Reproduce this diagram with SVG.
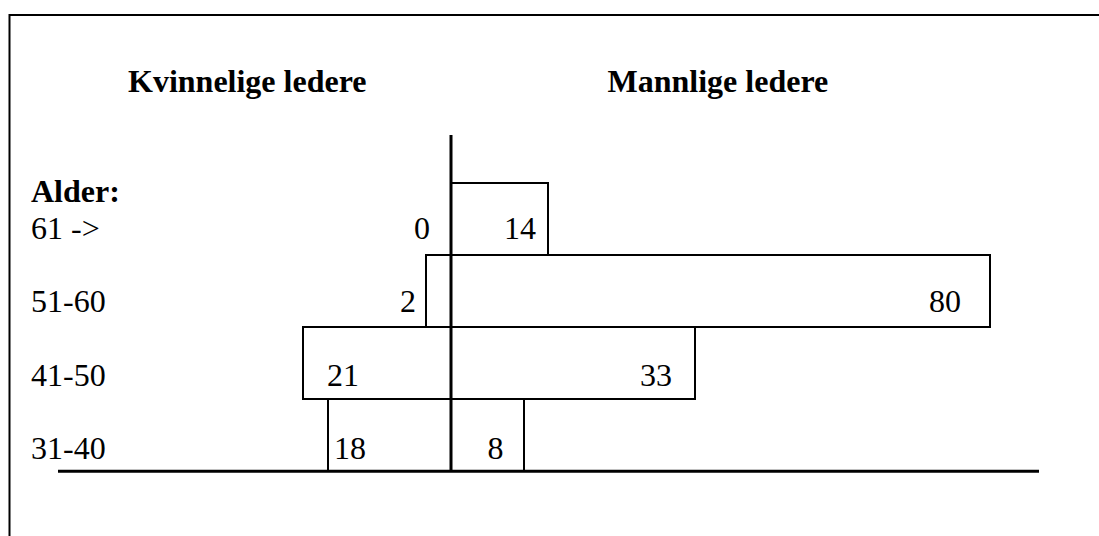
<svg xmlns="http://www.w3.org/2000/svg" width="1099" height="536" viewBox="0 0 1099 536">
<style>
text{font-family:"Liberation Serif","Times New Roman",serif;font-size:32px;fill:#000}
.h{font-weight:bold}
.bar{fill:#fff;stroke:#000;stroke-width:2}
.frame{fill:none;stroke:#000;stroke-width:2}
.axis{stroke:#000;stroke-width:3;fill:none}
</style>
<rect width="1099" height="536" fill="#fff"/>
<path class="frame" d="M9.5,536 V15 H1099"/>
<g id="headings">
<text class="h" x="128" y="92">Kvinnelige ledere</text>
<text class="h" x="607.5" y="92">Mannlige ledere</text>
</g>
<g id="labels">
<text class="h" x="31" y="202">Alder:</text>
<text x="31" y="239">61 -&gt;</text>
<text x="31" y="312">51-60</text>
<text x="31" y="386">41-50</text>
<text x="31" y="459">31-40</text>
</g>
<g id="bar-f-61"><text x="414" y="239">0</text></g>
<g id="bar-m-61"><rect class="bar" x="451" y="183" width="97" height="72"/><text x="504" y="239">14</text></g>
<g id="bar-f-51"><rect class="bar" x="426" y="255" width="25" height="72"/><text x="400" y="312">2</text></g>
<g id="bar-m-51"><rect class="bar" x="451" y="255" width="539" height="72"/><text x="929" y="312">80</text></g>
<g id="bar-f-41"><rect class="bar" x="303" y="327" width="148" height="72"/><text x="327" y="386">21</text></g>
<g id="bar-m-41"><rect class="bar" x="451" y="327" width="244" height="72"/><text x="640" y="386">33</text></g>
<g id="bar-f-31"><rect class="bar" x="328" y="399" width="123" height="72"/><text x="334" y="459">18</text></g>
<g id="bar-m-31"><rect class="bar" x="451" y="399" width="73" height="72"/><text x="487.5" y="459">8</text></g>
<g id="axes">
<line class="axis" x1="451" y1="135" x2="451" y2="471"/>
<line class="axis" x1="58" y1="471.2" x2="1039" y2="471.2"/>
</g>
</svg>
